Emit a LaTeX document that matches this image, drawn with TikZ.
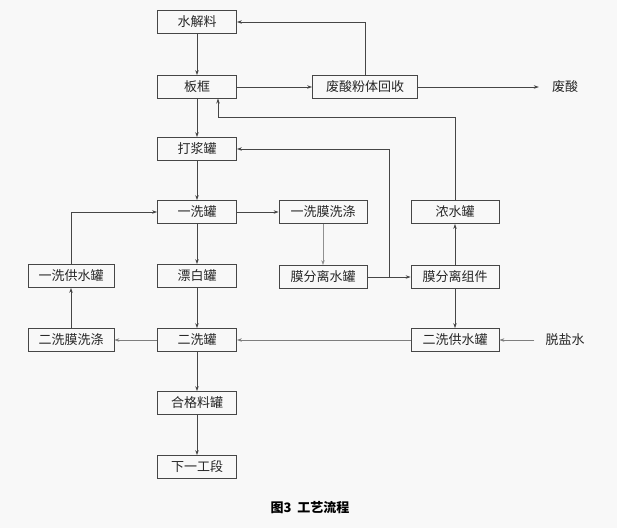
\documentclass[tikz,border=0pt]{standalone}
\usepackage{fontspec}
\newfontfamily\cjk{Noto Sans CJK SC}
\usetikzlibrary{arrows.meta}
\definecolor{ln}{RGB}{70,70,70}
\definecolor{bg}{RGB}{248,248,248}
\begin{document}
\begin{tikzpicture}[x=1pt,y=-1pt,
  box/.style={draw=ln,line width=0.8pt,minimum height=23pt,inner sep=0pt,font=\cjk\fontsize{13}{13}\selectfont,text=black!85},
  sbox/.style={box,minimum width=79pt},
  wbox/.style={box,minimum width=88pt},
  lbl/.style={font=\cjk\fontsize{13}{13}\selectfont,text=black!85,inner sep=1pt},
  arr/.style={draw=ln,line width=0.7pt,-{Stealth[length=5pt,width=3.5pt]}},
  ln/.style={draw=ln,line width=0.7pt}]
\fill[bg] (0,0) rectangle (617,528);
\useasboundingbox (0,0) rectangle (617,528);
\node[sbox] (sjl) at (197,22) {水解料};
\node[sbox] (bk) at (197,87) {板框};
\node[box,minimum width=105pt] (fs) at (365,87) {废酸粉体回收};
\node[lbl] (fa) at (565,87) {废酸};
\node[sbox] (dj) at (197,149) {打浆罐};
\node[sbox] (yx) at (197,212) {一洗罐};
\node[wbox] (yxm) at (323,212) {一洗膜洗涤};
\node[wbox] (ns) at (455,212) {浓水罐};
\node[box,minimum width=86pt] (yg) at (71,276) {一洗供水罐};
\node[sbox] (pb) at (197,276) {漂白罐};
\node[wbox] (mfs) at (323,277) {膜分离水罐};
\node[wbox] (mzj) at (455,277) {膜分离组件};
\node[box,minimum width=86pt] (exm) at (71,340) {二洗膜洗涤};
\node[sbox] (ex) at (197,340) {二洗罐};
\node[wbox] (eg) at (455,340) {二洗供水罐};
\node[lbl] (tys) at (565,340) {脱盐水};
\node[sbox] (hg) at (197,403) {合格料罐};
\node[sbox] (xy) at (197,467) {下一工段};
\node[font=\cjk\bfseries\fontsize{13}{13}\selectfont] (cap) at (310,508) {图3\hspace{6pt}工艺流程};
\coordinate (j1) at (389,277);
\draw[arr] (sjl) -- (bk);
\draw[arr] (bk) -- (fs);
\draw[arr] (fs.north) |- (sjl.east);
\draw[arr,shorten >=12pt] (fs.east) -- (fa.west);
\draw[arr] (bk) -- (dj);
\draw[arr] (ns.north) |- (218,117) -- (218,98.5);
\draw[arr] (mfs) -- (mzj);
\draw[arr] (j1) |- (dj.east);
\draw[arr] (dj) -- (yx);
\draw[arr] (yx) -- (yxm);
\draw[arr,draw=ln!60] (yxm) -- (mfs);
\draw[arr] (mzj) -- (ns);
\draw[arr] (mzj) -- (eg);
\draw[arr,draw=ln!70,shorten <=10pt] (tys.west) -- (eg.east);
\draw[arr,draw=ln!70] (eg) -- (ex);
\draw[arr,draw=ln!70] (ex) -- (exm);
\draw[arr] (exm) -- (yg);
\draw[arr] (yg.north) |- (yx.west);
\draw[arr] (yx) -- (pb);
\draw[arr] (pb) -- (ex);
\draw[arr] (ex) -- (hg);
\draw[arr] (hg) -- (xy);
\end{tikzpicture}
\end{document}
